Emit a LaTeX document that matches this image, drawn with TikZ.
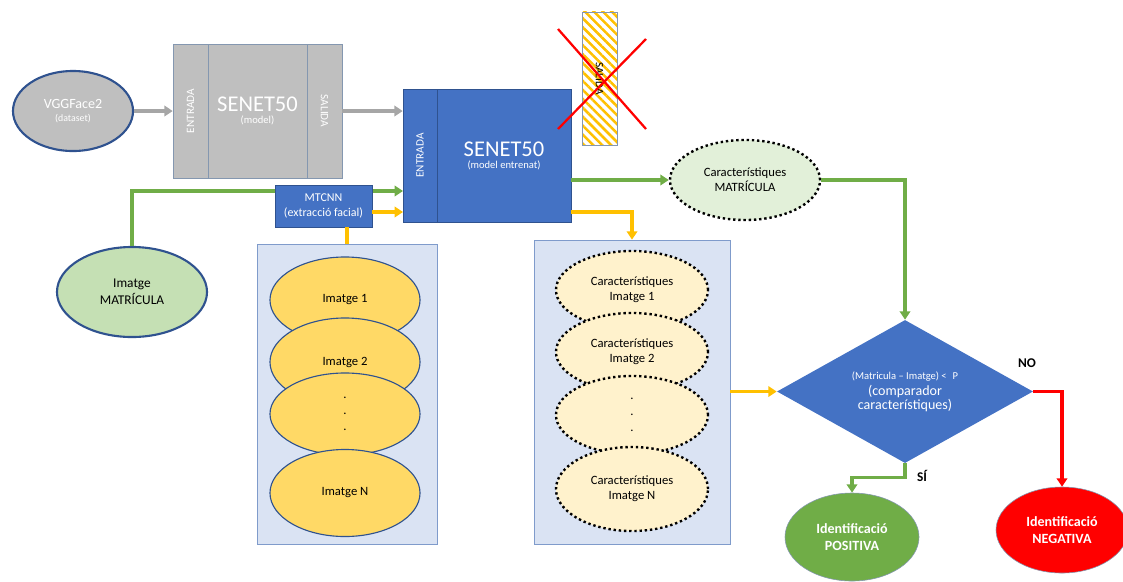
\documentclass[tikz,border=0pt]{standalone}
\usepackage{fontspec}
\setmainfont{Carlito}
\usetikzlibrary{shapes.geometric,arrows.meta,patterns.meta,calc}

\definecolor{grisfons}{HTML}{BFBFBF}
\definecolor{grisvora}{HTML}{8497B0}
\definecolor{grisfletxa}{HTML}{A6A6A6}
\definecolor{blau}{HTML}{4472C4}
\definecolor{blaufosc}{HTML}{2F528F}
\definecolor{blauclar}{HTML}{DAE3F3}
\definecolor{blauvora}{HTML}{7F9BCB}
\definecolor{verd}{HTML}{70AD47}
\definecolor{verdclar}{HTML}{C5E0B4}
\definecolor{verdpalid}{HTML}{E2F0D9}
\definecolor{groc}{HTML}{FFC000}
\definecolor{grocfort}{HTML}{FFD966}
\definecolor{grocclar}{HTML}{FFF2CC}
\definecolor{vermell}{HTML}{FF0000}

\begin{document}
\begin{tikzpicture}[x=0.025cm,y=-0.025cm,
    font=\fontsize{9}{10.5}\selectfont,
    modelgris/.style={draw=grisvora,fill=grisfons,text=white,inner sep=0pt,minimum height=3.35cm},
    modelblau/.style={draw=blaufosc,fill=blau,text=white,inner sep=0pt,minimum height=3.325cm},
    imatge/.style={ellipse,draw=blaufosc,thick,fill=grocfort,inner sep=0pt,minimum width=3.75cm,minimum height=2.15cm},
    carac/.style={ellipse,draw=black,line width=1.7pt,dotted,fill=grocclar,inner sep=0pt,minimum width=3.8cm,minimum height=1.95cm,align=center},
    fletxa/.style={line width=2.4pt,-{Triangle[length=6pt,width=7.5pt]}},
    grisarr/.style={fletxa,grisfletxa},
    verdarr/.style={fletxa,verd},
    grocarr/.style={fletxa,groc},
    vermarr/.style={fletxa,vermell}
  ]
  \useasboundingbox (0,0) rectangle (1123,581);

  % dataset i model
  \node[ellipse,draw=blaufosc,line width=1.5pt,fill=grisfons,text=white,minimum width=3cm,minimum height=2cm,inner sep=0pt,align=center]
    (vgg) at (73,111) {{\fontsize{10}{11}\selectfont VGGFace2}\\[-1pt]{\fontsize{7}{8}\selectfont (dataset)}};
  \node[modelgris,minimum width=0.875cm] (gin) at (190.5,111) {};
  \node[modelgris,minimum width=2.475cm,align=center] (gmid) at (257.5,111)
    {{\fontsize{16}{18}\selectfont SENET50}\\[-2pt]{\fontsize{7.5}{8.5}\selectfont (model)}};
  \node[modelgris,minimum width=0.875cm] (gout) at (324.5,111) {};
  \node[rotate=90,text=white,font=\fontsize{8}{9}\selectfont] (ginT) at (gin) {ENTRADA};
  \node[rotate=-90,text=white,font=\fontsize{8}{9}\selectfont] (goutT) at (gout) {SALIDA};

  % model entrenat
  \node[modelblau,minimum width=0.85cm] (bin) at (420,155.5) {};
  \node[modelblau,minimum width=3.35cm,align=center] (bmid) at (504,155.5)
    {{\fontsize{16}{18}\selectfont SENET50}\\[-2pt]{\fontsize{7.5}{8.5}\selectfont (model entrenat)}};
  \node[rotate=90,text=white,font=\fontsize{8}{9}\selectfont] (binT) at (bin) {ENTRADA};

  % capa de sortida descartada
  \node[draw=grisvora,fill=white,pattern={Lines[angle=-45,distance=4.5pt,line width=1.8pt]},pattern color=groc,
    minimum width=0.875cm,minimum height=3.325cm,inner sep=0pt] (salida) at (599.5,78.5) {};
  \node[rotate=-90,font=\fontsize{8}{9}\selectfont] (salidaT) at (salida) {SALIDA};
  \draw[vermell,line width=1.6pt] (558,29) -- (646,129) (646,39) -- (558,129);

  \draw[grisarr] (vgg.east) -- (gin.west);
  \draw[grisarr] (gout.east) -- (bin.west |- gout.east);

  % imatge de la matricula
  \node[ellipse,draw=blaufosc,line width=1.5pt,fill=verdclar,minimum width=3.75cm,minimum height=2.25cm,inner sep=0pt,align=center,
    font=\fontsize{9.5}{12}\selectfont] (imat) at (132,292) {Imatge\\MATRÍCULA};
  \coordinate (verdin) at (403,191);
  \coordinate (grocin) at (403,212);
  \draw[verdarr] (imat.north) |- (verdin);

  \node[draw=blaufosc,fill=blau,text=white,minimum width=2.425cm,minimum height=1.05cm,inner sep=0pt,align=center,
    font=\fontsize{8.5}{10.5}\selectfont] (mtcnn) at (323.5,206) {MTCNN\\(extracció facial)};
  \draw[grocarr] (mtcnn.east |- grocin) -- (grocin);

  % imatges de la cara
  \node[draw=blauvora,fill=blauclar,minimum width=4.5cm,minimum height=7.5cm] (lbox) at (347,394) {};
  \draw[groc,line width=2.4pt] (lbox.north |- mtcnn.south) -- (lbox.north);
  \node[imatge] (im1) at (345,300) {Imatge 1};
  \node[imatge,minimum height=2.2cm] (im2) at (345,362) {Imatge 2};
  \node[imatge,minimum height=2.05cm,align=center] (im3) at (345,414) {.\\[1pt].\\[1pt].};
  \node[imatge,minimum height=2.175cm] (imN) at (345,493) {Imatge N};

  % caracteristiques de les imatges
  \node[draw=blauvora,fill=blauclar,minimum width=4.9cm,minimum height=7.6cm] (rbox) at (632,392) {};
  \node[carac] (car1) at (632,290) {Característiques\\Imatge 1};
  \node[carac] (car2) at (632,352) {Característiques\\Imatge 2};
  \node[carac] (car3) at (632,415) {.\\[1pt].\\[1pt].};
  \node[carac,minimum height=2.1cm] (carN) at (632,489) {Característiques\\Imatge N};

  \coordinate (grocout) at (571,212);
  \draw[grocarr] (grocout) -| (rbox.north);

  % caracteristiques de la matricula
  \node[carac,fill=verdpalid,minimum width=3.75cm,minimum height=2cm] (charm) at (745,180) {Característiques\\MATRÍCULA};
  \draw[verdarr] (bmid.east |- charm.west) -- (charm.west);

  % comparador
  \node[diamond,aspect=1.8,fill=blau,text=white,inner sep=0pt,minimum width=6.4cm,minimum height=3.575cm,align=center]
    (cmp) at (905,391.5) {{\fontsize{7.5}{8.5}\selectfont (Matricula -- Imatge) <\,\, P}\\[1pt]{\fontsize{10}{11.5}\selectfont (comparador}\\[-1pt]{\fontsize{10}{11.5}\selectfont característiques)}};
  \draw[verdarr] (charm.east) -| (cmp.north);
  \draw[grocarr] (rbox.east |- cmp.west) -- (cmp.west);

  % resultats
  \node[ellipse,draw=grisvora,fill=verd,text=white,minimum width=3.35cm,minimum height=2.2cm,inner sep=0pt,align=center,
    font=\bfseries\fontsize{10}{12.5}\selectfont] (pos) at (852,537) {Identificació\\POSITIVA};
  \node[ellipse,draw=grisvora,fill=vermell,text=white,minimum width=3.3cm,minimum height=2.15cm,inner sep=0pt,align=center,
    font=\bfseries\fontsize{10}{12.5}\selectfont] (neg) at (1062,530) {Identificació\\NEGATIVA};
  \draw[vermarr] (cmp.east) -| (neg.north);
  \draw[verdarr] (cmp.south) -- ++(0,14) -| (pos.north);
  \node[font=\bfseries\fontsize{9.5}{11}\selectfont] (no) at (1027,363) {NO};
  \node[font=\bfseries\fontsize{9.5}{11}\selectfont] (si) at (922,476) {SÍ};

\end{tikzpicture}
\end{document}
